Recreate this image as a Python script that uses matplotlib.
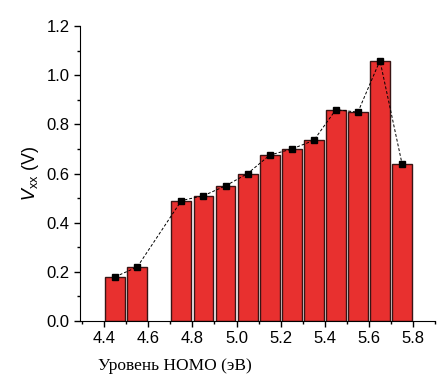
import matplotlib.pyplot as plt
from matplotlib.ticker import MultipleLocator

# HOMO level (eV) and open-circuit voltage (V)
homo = [4.45, 4.55, 4.75, 4.85, 4.95, 5.05, 5.15, 5.25, 5.35, 5.45, 5.55, 5.65, 5.75]
voc = [0.18, 0.22, 0.49, 0.51, 0.55, 0.60, 0.675, 0.70, 0.735, 0.86, 0.85, 1.06, 0.64]

fig = plt.figure(figsize=(4.44, 3.79), dpi=100)
ax = fig.add_axes([0.18, 0.153, 0.80, 0.778])

ax.bar(homo, voc, width=0.09, color='#e8302f', edgecolor='#3a1515', linewidth=1.0, zorder=2)
ax.plot(homo, voc, color='black', linestyle=(0, (3, 2)), linewidth=0.7,
        marker='s', markersize=5, zorder=3)

ax.set_xlim(4.29, 5.9)
ax.set_ylim(0, 1.2)
ax.xaxis.set_minor_locator(MultipleLocator(0.1))
ax.yaxis.set_minor_locator(MultipleLocator(0.1))
ax.set_xticks([4.4, 4.6, 4.8, 5.0, 5.2, 5.4, 5.6, 5.8])
ax.set_xticklabels(['4.4', '4.6', '4.8', '5.0', '5.2', '5.4', '5.6', '5.8'])
ax.set_yticks([0.0, 0.2, 0.4, 0.6, 0.8, 1.0, 1.2])
ax.set_yticklabels(['0.0', '0.2', '0.4', '0.6', '0.8', '1.0', '1.2'])

ax.spines['top'].set_visible(False)
ax.spines['right'].set_visible(False)
ax.tick_params(which='major', length=4, width=1, labelsize=12)
ax.tick_params(which='minor', length=2.5, width=1)
for lab in ax.get_xticklabels() + ax.get_yticklabels():
    lab.set_family('Liberation Sans')

ax.set_ylabel(r'$V_{\mathregular{хх}}$ (V)', fontsize=13, family='Liberation Sans')
ax.set_xlabel('Уровень HOMO (эВ)', fontsize=12.5, family='Liberation Serif')
ax.xaxis.set_label_coords(0.05, -0.125)
ax.xaxis.label.set_horizontalalignment('left')

fig.savefig('out.png', dpi=100)
